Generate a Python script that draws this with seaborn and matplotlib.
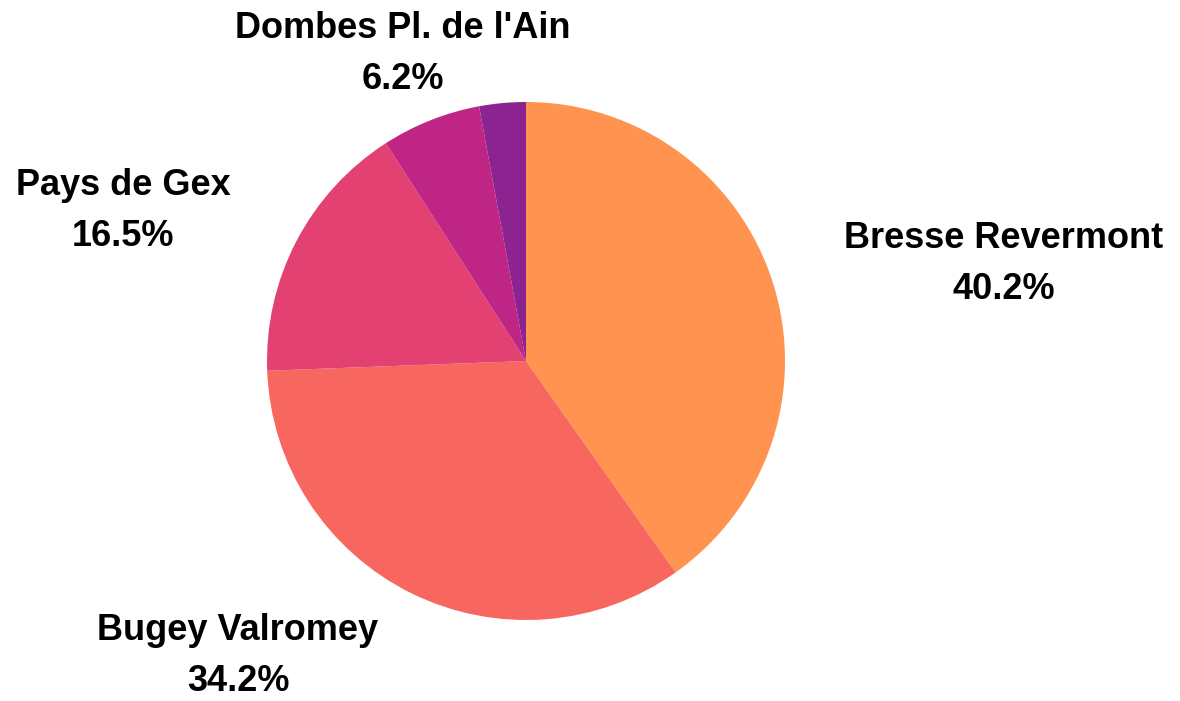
import matplotlib
matplotlib.use("Agg")

import matplotlib.pyplot as plt  # noqa: E402
import seaborn as sns            # noqa: E402

sns.set_theme(style="white")
plt.rcParams["font.family"] = ["Liberation Sans", "DejaVu Sans"]

# --------------------------------------------------------------------------- #
# Data
# --------------------------------------------------------------------------- #
REGIONS = ["Bresse Revermont", "Bugey Valromey", "Pays de Gex",
           "Dombes Pl. de l'Ain", ""]
SHARES = [40.2, 34.2, 16.5, 6.2, 2.9]
COLORS = ["#FF934F", "#F8675F", "#E24172", "#BE2584", "#8B2391"]

# label centres, in pie radius units (layout only)
LABEL_POS = [(1.846, 0.375), (-1.112, -1.140), (-1.556, 0.580),
             (-0.475, 1.186), (0.0, 0.0)]

fig = plt.figure(figsize=(11.8, 7.01), dpi=100)
# square axes of 518 px centred on (526, 361) px
ax = fig.add_axes([267 / 1180, 81 / 701, 518 / 1180, 518 / 701])

labels = [f"{r}\n{v:.1f}%" if r else "" for r, v in zip(REGIONS, SHARES)]
wedges, texts = ax.pie(
    SHARES, labels=labels, colors=COLORS, startangle=90, counterclock=False,
    wedgeprops=dict(linewidth=0), radius=1.0,
)
for t, (x, y) in zip(texts, LABEL_POS):
    t.set_position((x, y))
    t.set_ha("center")
    t.set_va("center")
    t.set_multialignment("center")
    t.set_fontsize(26)
    t.set_fontweight("bold")
    t.set_linespacing(1.6)
    t.set_color("black")

ax.set_xlim(-1, 1)
ax.set_ylim(-1, 1)
ax.set_aspect("equal")
ax.axis("off")

fig.savefig("out.png", dpi=100, facecolor="white")
